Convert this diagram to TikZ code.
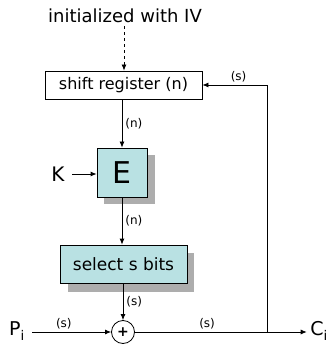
\documentclass[tikz,border=0pt]{standalone}
\usepackage{fontspec}
\setmainfont{DejaVu Sans}
\usetikzlibrary{arrows.meta}
\definecolor{boxfill}{HTML}{B9E1E3}
\definecolor{shadowgray}{HTML}{ADADAD}
\tikzset{
  conn/.style={line width=0.8pt,-{Latex[length=6pt,width=5pt]}},
  regbox/.style={draw,line width=0.8pt,fill=white,inner sep=0pt},
  cipherbox/.style={draw,line width=0.8pt,fill=boxfill,inner sep=0pt},
  shadowbox/.style={fill=shadowgray},
  bitlbl/.style={font=\fontsize{12}{13}\selectfont,inner sep=1pt},
  xorcircle/.style={draw,circle,line width=0.8pt,minimum size=23pt,inner sep=0pt,fill=white}
}
\begin{document}
\begin{tikzpicture}[x=1pt,y=-1pt]
\useasboundingbox (0,0) rectangle (329,347);
% shadows
\fill[shadowbox] (104,155) rectangle (155,204);
\fill[shadowbox] (68,253) rectangle (194,292);
% nodes
\node (title) at (125,16) {\fontsize{18}{20}\selectfont initialized with IV};
\node[regbox,minimum width=157pt,minimum height=28pt] (sr) at (123.5,85) {\fontsize{16}{18}\selectfont shift register (n)};
\node[cipherbox,minimum width=50pt,minimum height=49pt] (E) at (122,172.5) {\fontsize{30}{32}\selectfont E};
\node[cipherbox,minimum width=127pt,minimum height=38pt] (sel) at (123.5,264) {\fontsize{17}{19}\selectfont select s bits};
\node[xorcircle] (xor) at (123,332) {};
\node at (xor) {\fontsize{14}{14}\selectfont\bfseries +};
\node (K) at (58,174) {\fontsize{20}{22}\selectfont K};
\node (P) at (17,331) {\fontsize{19}{21}\selectfont P\textsubscript{i}};
\node (C) at (319,331) {\fontsize{19}{21}\selectfont C\textsubscript{i}};
\coordinate (fbb) at (267,332);
% connectors
\draw[conn,dashed] (title.south -| sr) ++(0.5,0) coordinate (ta) (ta) -- (ta |- sr.north);
\draw[conn] (sr.south -| E) -- (E.north) node[bitlbl,midway,right=2pt] {(n)};
\draw[conn] (E.south) -- (E.south |- sel.north) node[bitlbl,midway,right=2pt] {(n)};
\draw[conn] (sel.south -| xor) -- (xor.north) node[bitlbl,midway,right=2pt] {(s)};
\draw[conn] (P.east |- xor) ++(4,0) coordinate (pa) (pa) -- (xor.west) node[bitlbl,pos=0.4,above=2pt] {(s)};
\draw[conn] (xor.east) -- (C.west |- xor) node[bitlbl,pos=0.42,above=2pt] {(s)};
\draw[conn] (fbb) |- (sr.east) node[bitlbl,pos=0.72,above=2pt] {(s)};
\draw[conn] (K.east) ++(4,0) coordinate (ka) (ka) -- (E.west |- ka);
\end{tikzpicture}
\end{document}
